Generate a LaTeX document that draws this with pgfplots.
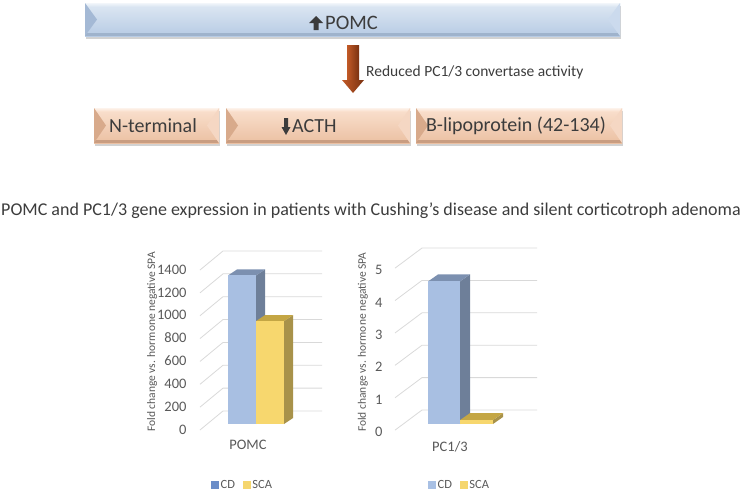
\documentclass[border=0pt]{standalone}
\usepackage{fontspec}
\setmainfont{Carlito}
\usepackage{pgfplots}
\pgfplotsset{compat=1.18}
\definecolor{cdfront}{HTML}{A8BFE2}
\definecolor{cdside}{HTML}{6E7F99}
\definecolor{cdtop}{HTML}{7C90B0}
\definecolor{scafront}{HTML}{F7D76E}
\definecolor{scaside}{HTML}{A8924A}
\definecolor{scatop}{HTML}{C4A644}
\definecolor{legcdL}{HTML}{6B8DC8}
\definecolor{legcdR}{HTML}{A8C0E4}
\definecolor{legsca}{HTML}{F5D66E}
\definecolor{gridc}{HTML}{D9D9D9}
\definecolor{tickgray}{HTML}{595959}
\definecolor{txt}{HTML}{3C3C3C}
\definecolor{bTop}{HTML}{DEE8F3}
\definecolor{bBot}{HTML}{B7CBE4}
\definecolor{bL}{HTML}{A4B9D5}
\definecolor{bR}{HTML}{CBDAED}
\definecolor{bB}{HTML}{9FB3CC}
\definecolor{pTop}{HTML}{FAE1CF}
\definecolor{pBot}{HTML}{EBC0A2}
\definecolor{pL}{HTML}{D8AA8B}
\definecolor{pR}{HTML}{F5D7C3}
\definecolor{pB}{HTML}{C99D81}
\definecolor{brL}{HTML}{C25A27}
\definecolor{brR}{HTML}{7A3211}
% bevel box: x1,y1,x2,y2 (y downward), main-top, main-bottom, left, right, bottom strip
\newcommand{\bevelbox}[9]{%
  \fill[gray!35] ({#1+1},{-(#4+2.5)}) rectangle ({#3+1},{-(#2+3)});
  \shade[top color=#5, bottom color=#6] (#1,-#2) rectangle (#3,-#4);
  \shade[top color=white!60!#5, bottom color=#5] (#1,-#2) rectangle (#3,{-(#2+3)});
  \fill[#9] (#1,-#4) rectangle (#3,{-(#4-3)});
  \fill[#7] (#1,-#2) -- ({#1+12},{-(#2+#4)/2}) -- (#1,-#4) -- cycle;
  \fill[#8] (#3,-#2) -- ({#3-12},{-(#2+#4)/2}) -- (#3,-#4) -- cycle;
}
\pgfplotsset{
  legsq/.style={legend image code/.code={\fill[#1] (0pt,-3.5pt) rectangle (7pt,3.5pt);}},
}
\begin{document}
\begin{tikzpicture}[x=1pt,y=1pt]
\path[use as bounding box] (0,0) rectangle (742,-493);
\coordinate (LA) at (190,-435.43);
\coordinate (RA) at (386,-436.96);
% ---------- diagram ----------
\bevelbox{85}{3}{620}{36}{bTop}{bBot}{bL}{bR}{bB}
\fill[txt] (309,-23) -- (316,-16) -- (323,-23) -- (318.5,-23) -- (318.5,-30) -- (313.5,-30) -- (313.5,-23) -- cycle;
\node[anchor=west, inner sep=0pt, text=txt, font=\fontsize{20.5}{24}\selectfont] at (325,-23) {POMC};
% brown arrow
\shade[left color=brL, right color=brR] (347,-45) rectangle (359,-80);
\shade[left color=brL, right color=brR] (342,-80) -- (364,-80) -- (353,-93) -- cycle;
\node[anchor=west, inner sep=0pt, text=txt, font=\fontsize{15.5}{18}\selectfont] at (366,-72) {Reduced PC1/3 convertase activity};
% bottom boxes
\bevelbox{94}{108}{219}{143}{pTop}{pBot}{pL}{pR}{pB}
\bevelbox{226}{108}{410}{143}{pTop}{pBot}{pL}{pR}{pB}
\bevelbox{416}{108}{622}{143}{pTop}{pBot}{pL}{pR}{pB}
\node[inner sep=0pt, text=txt, font=\fontsize{20}{24}\selectfont] at (153,-126) {N-terminal};
\fill[txt] (284,-118) -- (288,-118) -- (288,-127) -- (290.5,-127) -- (286,-135) -- (281.5,-127) -- (284,-127) -- cycle;
\node[anchor=west, inner sep=0pt, text=txt, font=\fontsize{20}{24}\selectfont] at (292,-126) {ACTH};
\node[inner sep=0pt, text=txt, font=\fontsize{20}{24}\selectfont] at (516,-126) {B-lipoprotein (42-134)};
% title
\node[inner sep=0pt, text=txt, font=\fontsize{18}{21}\selectfont] at (371,-211) {POMC and PC1/3 gene expression in patients with Cushing’s disease and silent corticotroph adenoma};
% ---------- left chart ----------
\begin{axis}[
  at={(LA)}, anchor=south west, scale only axis,
  width=150pt, height=194.29pt,
  xmin=190, xmax=340, ymin=-100, ymax=1600, clip=false,
  axis line style={draw=none}, major tick length=0pt,
  ytick={0,200,...,1400}, xtick={248}, xticklabels={POMC},
  /pgf/number format/assume math mode=true, /pgf/number format/1000 sep={},
  yticklabel style={font=\fontsize{14.5}{16}\selectfont, text=tickgray, yshift=-5.5pt},
  xticklabel style={font=\fontsize{14.5}{16}\selectfont, text=tickgray, yshift=-1pt},
  ylabel={Fold change vs. hormone negative SPA},
  ylabel style={at={(axis description cs:-0.253,0.481)}, anchor=center, font=\fontsize{11.5}{13}\selectfont, text=tickgray},
  legend columns=2, legend cell align=left,
  legend style={at={(axis description cs:0.14,-0.2551)}, anchor=west, draw=none, fill=none, inner sep=0pt,
    font=\fontsize{12.5}{14}\selectfont, text=tickgray, /tikz/every even column/.append style={column sep=6pt}},
]
\pgfplotsinvokeforeach{0,200,400,600,800,1000,1200,1400}{
  \draw[gridc, line width=0.8pt] (200,#1-52.5) -- (223,#1+114) -- (322,#1+114);
}
% CD
\addplot[forget plot, fill=cdside, draw=none] coordinates {(256,0) (265,52.5) (265,1352.5) (256,1300)} -- cycle;
\addplot[forget plot, fill=cdtop, draw=none] coordinates {(228,1300) (237,1352.5) (265,1352.5) (256,1300)} -- cycle;
\addplot[forget plot, ybar, bar width=28, bar shift=0pt, fill=cdfront, draw=none] coordinates {(242,1300)};
% SCA
\addplot[forget plot, fill=scaside, draw=none] coordinates {(284,0) (293,52.5) (293,952.5) (284,900)} -- cycle;
\addplot[forget plot, fill=scatop, draw=none] coordinates {(256,900) (265,952.5) (293,952.5) (284,900)} -- cycle;
\addplot[forget plot, ybar, bar width=28, bar shift=0pt, fill=scafront, draw=none] coordinates {(270,900)};
\addlegendimage{legsq=legcdL}
\addlegendentry{CD}
\addlegendimage{legsq=legsca}
\addlegendentry{SCA}
\end{axis}
% ---------- right chart ----------
\begin{axis}[
  at={(RA)}, anchor=south west, scale only axis,
  width=160pt, height=194.4pt,
  xmin=386, xmax=546, ymin=-0.4, ymax=5.6, clip=false,
  axis line style={draw=none}, major tick length=0pt,
  ytick={0,1,...,5}, xtick={450}, xticklabels={PC1/3},
  /pgf/number format/assume math mode=true,
  yticklabel style={font=\fontsize{14.5}{16}\selectfont, text=tickgray, yshift=-8pt},
  xticklabel style={font=\fontsize{14.5}{16}\selectfont, text=tickgray, yshift=-1pt},
  ylabel={Fold change vs. hormone negative SPA},
  ylabel style={at={(axis description cs:-0.144,0.488)}, anchor=center, font=\fontsize{11.5}{13}\selectfont, text=tickgray},
  legend columns=2, legend cell align=left,
  legend style={at={(axis description cs:0.2625,-0.2471)}, anchor=west, draw=none, fill=none, inner sep=0pt,
    font=\fontsize{12.5}{14}\selectfont, text=tickgray, /tikz/every even column/.append style={column sep=6pt}},
]
\pgfplotsinvokeforeach{0,1,2,3,4,5}{
  \draw[gridc, line width=0.8pt] (395,#1-0.19) -- (422,#1+0.432) -- (537,#1+0.432);
}
% CD
\addplot[forget plot, fill=cdside, draw=none] coordinates {(460,0) (470,0.216) (470,4.616) (460,4.4)} -- cycle;
\addplot[forget plot, fill=cdtop, draw=none] coordinates {(428,4.4) (438,4.616) (470,4.616) (460,4.4)} -- cycle;
\addplot[forget plot, ybar, bar width=32, bar shift=0pt, fill=cdfront, draw=none] coordinates {(444,4.4)};
% SCA
\addplot[forget plot, fill=scaside, draw=none] coordinates {(493,0) (503,0.216) (503,0.336) (493,0.12)} -- cycle;
\addplot[forget plot, fill=scatop, draw=none] coordinates {(460,0.12) (470,0.336) (503,0.336) (493,0.12)} -- cycle;
\addplot[forget plot, ybar, bar width=33, bar shift=0pt, fill=scafront, draw=none] coordinates {(476.5,0.12)};
\addlegendimage{legsq=legcdR}
\addlegendentry{CD}
\addlegendimage{legsq=legsca}
\addlegendentry{SCA}
\end{axis}
\end{tikzpicture}
\end{document}
